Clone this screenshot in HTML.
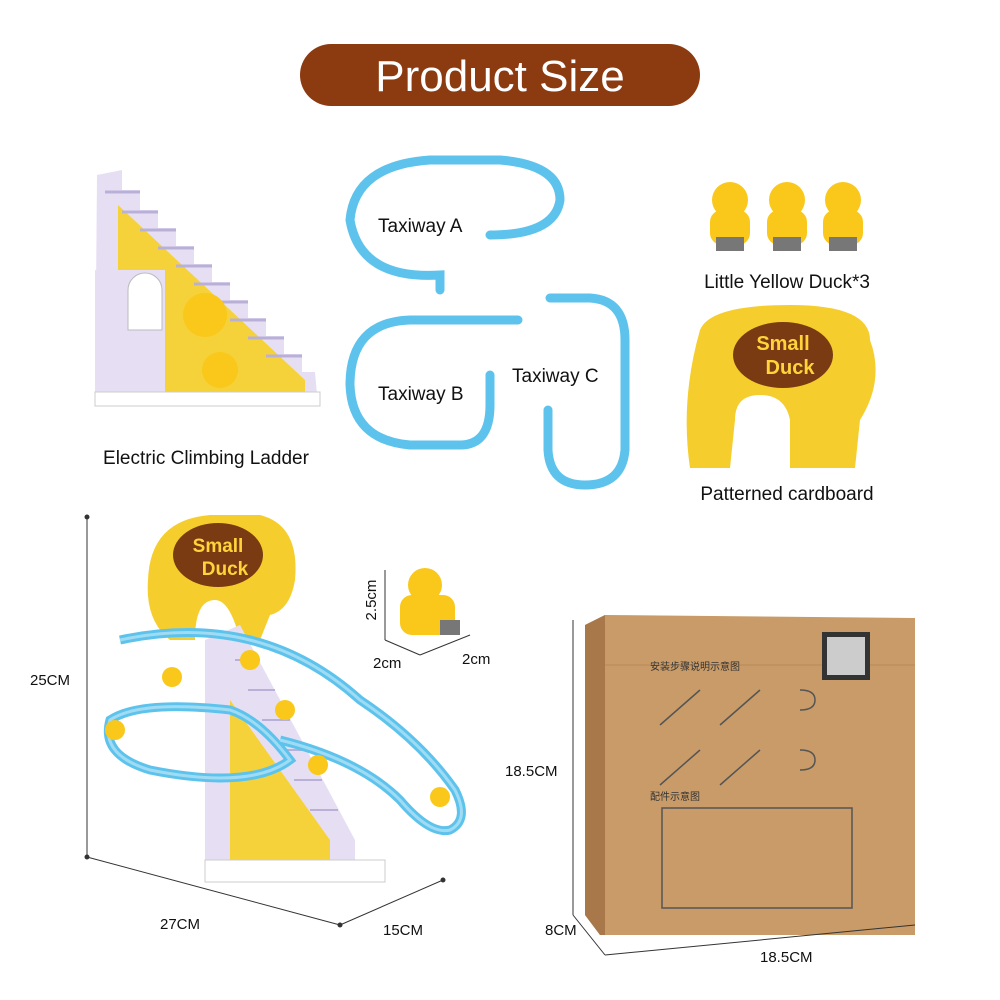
<!DOCTYPE html>
<html><head><meta charset="utf-8"><style>
html,body{margin:0;padding:0;background:#fff;}
svg{display:block;font-family:"Liberation Sans",Arial,sans-serif;}
</style></head><body>
<svg width="1000" height="1000" viewBox="0 0 1000 1000" xmlns="http://www.w3.org/2000/svg">
<rect width="1000" height="1000" fill="#fff"/>
<!-- header -->
<rect x="300" y="44" width="400" height="62" rx="31" fill="#8C3A10"/>
<text x="500" y="91" text-anchor="middle" font-size="44" fill="#fff">Product Size</text>

<!-- ladder top-left -->
<polygon points="97,175 122,170 122,190 140,190 140,210 158,210 158,228 176,228 176,246 194,246 194,264 212,264 212,282 230,282 230,300 248,300 248,318 266,318 266,336 284,336 284,354 302,354 302,372 315,372 318,405 95,405" fill="#E6DFF4"/>
<polygon points="118,205 305,380 305,395 118,395" fill="#F6D23A"/>
<g stroke="#B9B0D8" stroke-width="3">
<line x1="105" y1="192" x2="140" y2="192"/><line x1="122" y1="212" x2="158" y2="212"/><line x1="140" y1="230" x2="176" y2="230"/><line x1="158" y1="248" x2="194" y2="248"/><line x1="176" y1="266" x2="212" y2="266"/><line x1="194" y1="284" x2="230" y2="284"/><line x1="212" y1="302" x2="248" y2="302"/><line x1="230" y1="320" x2="266" y2="320"/><line x1="248" y1="338" x2="284" y2="338"/><line x1="266" y1="356" x2="302" y2="356"/></g>
<rect x="95" y="270" width="70" height="135" fill="#E6DFF4"/>
<path d="M128,330 v-40 a17,17 0 0 1 34,0 v40z" fill="#fff" stroke="#bbb"/>
<circle cx="205" cy="315" r="22" fill="#F9C81A"/>
<circle cx="220" cy="370" r="18" fill="#F9C81A"/>
<rect x="95" y="392" width="225" height="14" fill="#fff" stroke="#ccc"/>
<text x="206" y="464" text-anchor="middle" font-size="19" fill="#111">Electric Climbing Ladder</text>

<!-- taxiways -->
<g fill="none" stroke="#5EC3EC" stroke-width="9" stroke-linecap="round">
<path d="M440,290 L440,275 Q360,280 350,220 Q355,165 430,160 L500,160 Q560,165 560,200 Q555,235 490,235"/>
<path d="M518,320 L410,320 Q350,322 350,385 Q352,440 410,445 L460,445 Q490,445 490,405 L490,375"/>
<path d="M550,298 L590,298 Q625,300 625,340 L625,450 Q622,485 585,485 Q550,485 548,450 L548,410"/>
</g>
<text x="378" y="232" font-size="19" fill="#111">Taxiway A</text>
<text x="378" y="400" font-size="19" fill="#111">Taxiway B</text>
<text x="512" y="382" font-size="19" fill="#111">Taxiway C</text>

<!-- ducks -->
<g fill="#F9C81A">
<circle cx="730" cy="200" r="18"/><rect x="710" y="210" width="40" height="35" rx="12"/>
<circle cx="787" cy="200" r="18"/><rect x="767" y="210" width="40" height="35" rx="12"/>
<circle cx="843" cy="200" r="18"/><rect x="823" y="210" width="40" height="35" rx="12"/>
</g>
<rect x="716" y="237" width="28" height="14" fill="#777"/><rect x="773" y="237" width="28" height="14" fill="#777"/><rect x="829" y="237" width="28" height="14" fill="#777"/>
<text x="787" y="288" text-anchor="middle" font-size="19" fill="#111">Little Yellow Duck*3</text>

<!-- cardboard -->
<path d="M700,330 Q710,305 790,305 Q870,305 870,340 Q885,380 860,420 L855,468 L790,468 L790,420 Q785,395 760,395 Q735,395 735,420 L730,468 L690,468 Q680,400 700,330z" fill="#F5CE2E"/>
<ellipse cx="783" cy="355" rx="50" ry="33" fill="#7A3B12"/>
<text x="783" y="350" text-anchor="middle" font-size="20" font-weight="bold" fill="#FFD43B">Small</text>
<text x="790" y="374" text-anchor="middle" font-size="20" font-weight="bold" fill="#FFD43B">Duck</text>
<text x="787" y="500" text-anchor="middle" font-size="19" fill="#111">Patterned cardboard</text>

<!-- assembled toy -->
<path d="M148,580 Q150,520 210,515 L260,515 Q300,525 295,580 Q290,610 270,615 L260,640 L240,640 Q230,600 215,600 Q195,600 195,640 L170,640 Q145,620 148,580z" fill="#F5CE2E"/>
<ellipse cx="218" cy="555" rx="45" ry="32" fill="#7A3B12"/>
<text x="218" y="552" text-anchor="middle" font-size="19" font-weight="bold" fill="#FFD43B">Small</text>
<text x="225" y="575" text-anchor="middle" font-size="19" font-weight="bold" fill="#FFD43B">Duck</text>
<polygon points="205,640 240,625 355,840 355,880 205,880" fill="#E6DFF4"/>
<polygon points="230,700 330,840 330,875 230,875" fill="#F6D23A"/>
<g stroke="#B9B0D8" stroke-width="2"><line x1="235" y1="660" x2="260" y2="660"/><line x1="248" y1="690" x2="275" y2="690"/><line x1="262" y1="720" x2="290" y2="720"/><line x1="278" y1="750" x2="306" y2="750"/><line x1="294" y1="780" x2="322" y2="780"/><line x1="310" y1="810" x2="338" y2="810"/></g>
<rect x="205" y="860" width="180" height="22" fill="#fff" stroke="#ccc"/>
<g fill="none" stroke="#5EC3EC" stroke-width="9">
<path d="M120,640 Q260,610 360,700 Q420,740 455,790 Q470,820 450,830 Q430,835 400,800 Q360,760 280,740"/>
<path d="M110,720 Q140,700 230,710 Q260,720 290,760 Q250,790 150,770 Q100,755 110,720z"/>
</g>
<g fill="none" stroke="#9FDCF4" stroke-width="3">
<path d="M120,640 Q260,610 360,700 Q420,740 455,790 Q470,820 450,830 Q430,835 400,800 Q360,760 280,740"/>
<path d="M110,720 Q140,700 230,710 Q260,720 290,760 Q250,790 150,770 Q100,755 110,720z"/>
</g>
<g fill="#F9C81A"><circle cx="172" cy="677" r="10"/><circle cx="115" cy="730" r="10"/><circle cx="250" cy="660" r="10"/><circle cx="285" cy="710" r="10"/><circle cx="318" cy="765" r="10"/><circle cx="440" cy="797" r="10"/></g>
<g stroke="#333" stroke-width="1" fill="#333">
<line x1="87" y1="517" x2="87" y2="857"/><circle cx="87" cy="517" r="2"/><circle cx="87" cy="857" r="2"/>
<line x1="87" y1="857" x2="340" y2="925"/><circle cx="340" cy="925" r="2"/>
<line x1="340" y1="925" x2="443" y2="880"/><circle cx="443" cy="880" r="2"/>
</g>
<text x="30" y="685" font-size="15" fill="#111">25CM</text>
<text x="160" y="929" font-size="15" fill="#111">27CM</text>
<text x="383" y="935" font-size="15" fill="#111">15CM</text>

<!-- single duck -->
<circle cx="425" cy="585" r="17" fill="#F9C81A"/>
<rect x="400" y="595" width="55" height="40" rx="12" fill="#F9C81A"/>
<rect x="440" y="620" width="20" height="15" fill="#777"/>
<g stroke="#333" stroke-width="1"><line x1="385" y1="570" x2="385" y2="640"/><line x1="385" y1="640" x2="420" y2="655"/><line x1="420" y1="655" x2="470" y2="635"/></g>
<text x="376" y="600" font-size="15" fill="#111" transform="rotate(-90 376 600)" text-anchor="middle">2.5cm</text>
<text x="373" y="668" font-size="15" fill="#111">2cm</text>
<text x="462" y="664" font-size="15" fill="#111">2cm</text>

<!-- box -->
<polygon points="585,625 605,615 915,618 915,935 600,935 585,915" fill="#C89B68"/>
<polygon points="585,625 605,615 605,935 600,935 585,915" fill="#A9784A"/>
<line x1="605" y1="665" x2="915" y2="665" stroke="#B88A58" stroke-width="1"/>
<rect x="822" y="632" width="48" height="48" fill="#333"/>
<rect x="827" y="637" width="38" height="38" fill="#ccc"/>
<text x="650" y="670" font-size="10" fill="#333" font-family="'Noto Sans CJK SC',sans-serif">安装步骤说明示意图</text>
<text x="650" y="800" font-size="10" fill="#333" font-family="'Noto Sans CJK SC',sans-serif">配件示意图</text>
<g fill="none" stroke="#555" stroke-width="1.5">
<path d="M660,725 L700,690 M720,725 L760,690 M660,785 L700,750 M720,785 L760,750"/>
<rect x="662" y="808" width="190" height="100"/>
<path d="M800,690 q15,0 15,10 q0,10 -15,10"/><path d="M800,750 q15,0 15,10 q0,10 -15,10"/>
</g>
<g stroke="#333" stroke-width="1">
<line x1="573" y1="620" x2="573" y2="915"/><line x1="573" y1="915" x2="605" y2="955"/><line x1="605" y1="955" x2="915" y2="925"/>
</g>
<text x="505" y="776" font-size="15" fill="#111">18.5CM</text>
<text x="545" y="935" font-size="15" fill="#111">8CM</text>
<text x="760" y="962" font-size="15" fill="#111">18.5CM</text>
</svg>
</body></html>
